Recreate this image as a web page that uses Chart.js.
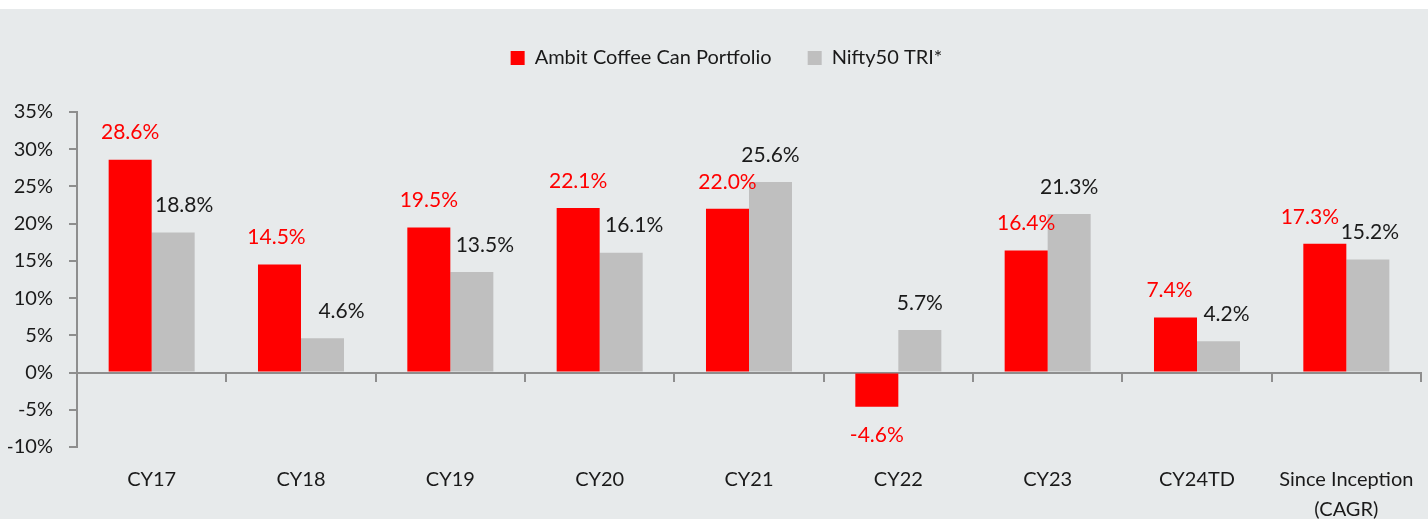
<!DOCTYPE html>
<html>
<head>
<meta charset="utf-8">
<script src="https://cdn.jsdelivr.net/npm/chart.js@4.4.1/dist/chart.umd.min.js"></script>
<style>
html, body { margin: 0; padding: 0; background: #fff; }
#wrap { position: absolute; left: 0; top: 9px; width: 1428px; height: 510px; background: #E7EAEB; }
</style>
</head>
<body>
<div id="wrap"><canvas id="barCanvas" width="1428" height="510"></canvas></div>
<script>
// Calendar year returns
const categories = ["CY17", "CY18", "CY19", "CY20", "CY21", "CY22", "CY23", "CY24TD", ["Since Inception", "(CAGR)"]];
const coffeeCan = [28.6, 14.5, 19.5, 22.1, 22.0, -4.6, 16.4, 7.4, 17.3];
const nifty50 = [18.8, 4.6, 13.5, 16.1, 25.6, 5.7, 21.3, 4.2, 15.2];
const yMin = -10;
const yMax = 35;
const yStep = 5;

// sideways nudges for value labels (they were moved apart in the original)
const coffeeShift = [0, -3, 0, 0, 0, 0, 0, -6, -15];
const niftyShift = [11, 19, 13, 13, 0, 0, 0, 8, 2];

const FONT = "Lato";
const axisGrey = "#8e8e8e";

const valueLabels = {
    id: "valueLabels",
    afterDatasetsDraw(chart) {
        const ctx = chart.ctx;
        ctx.save();
        ctx.font = "21px " + FONT;
        ctx.textAlign = "center";
        ctx.textBaseline = "middle";
        chart.data.datasets.forEach((ds, i) => {
            chart.getDatasetMeta(i).data.forEach((bar, j) => {
                const v = ds.data[j];
                const y = v >= 0 ? bar.y - 27 : bar.y + 28;
                ctx.fillStyle = ds.labelColor;
                ctx.fillText(v.toFixed(1) + "%", bar.x + ds.labelShift[j], y);
            });
        });
        ctx.restore();
    }
};

// more room under the legend, and nudge it right a bit
const legendSpace = {
    id: "legendSpace",
    beforeInit(chart) {
        const fit = chart.legend.fit;
        chart.legend.fit = function () {
            fit.bind(chart.legend)();
            this.height += 34;
        };
    },
    beforeDraw(chart) {
        chart.legend.left += 12;
        chart.legend.right += 12;
    }
};

const barCanvas = document.getElementById("barCanvas");

const barChart = new Chart(barCanvas, {
    type: "bar",
    data: {
        labels: categories,
        datasets: [
            {
                label: "Ambit Coffee Can Portfolio",
                data: coffeeCan,
                backgroundColor: "#FF0000",
                labelColor: "#FF0000",
                labelShift: coffeeShift,
                barPercentage: 1,
                categoryPercentage: 0.576
            },
            {
                label: "Nifty50 TRI*",
                data: nifty50,
                backgroundColor: "#BFBFBF",
                labelColor: "#1a1a1a",
                labelShift: niftyShift,
                barPercentage: 1,
                categoryPercentage: 0.576
            }
        ]
    },
    options: {
        responsive: false,
        animation: false,
        layout: { padding: { left: 8, right: 7, top: 3, bottom: 0 } },
        plugins: {
            tooltip: { enabled: false },
            legend: {
                position: "top",
                labels: {
                    boxWidth: 14,
                    boxHeight: 14,
                    padding: 36,
                    color: "#1a1a1a",
                    font: { family: FONT, size: 20 }
                }
            }
        },
        scales: {
            x: {
                position: "bottom",
                grid: { display: false },
                border: { display: false },
                ticks: {
                    color: "#1a1a1a",
                    padding: 10,
                    maxRotation: 0,
                    autoSkip: false,
                    font: { family: FONT, size: 20, lineHeight: 1.5 }
                },
                afterFit(scale) {
                    scale.height = 72;
                    scale.paddingLeft = 0;
                    scale.paddingRight = 0;
                }
            },
            xZero: {
                type: "category",
                position: { y: 0 },
                grid: {
                    offset: true,
                    drawOnChartArea: false,
                    tickLength: 8,
                    color: axisGrey,
                    lineWidth: 2
                },
                border: { color: axisGrey, width: 2 },
                ticks: { display: false }
            },
            y: {
                min: yMin,
                max: yMax,
                grid: {
                    drawOnChartArea: false,
                    tickLength: 8,
                    color: axisGrey,
                    lineWidth: 2
                },
                border: { color: axisGrey, width: 2 },
                ticks: {
                    stepSize: yStep,
                    padding: 16,
                    color: "#1a1a1a",
                    font: { family: FONT, size: 20 },
                    callback: (v) => v + "%"
                },
                afterFit(scale) { scale.width = 69; }
            }
        }
    },
    plugins: [valueLabels, legendSpace]
});
</script>
</body>
</html>
